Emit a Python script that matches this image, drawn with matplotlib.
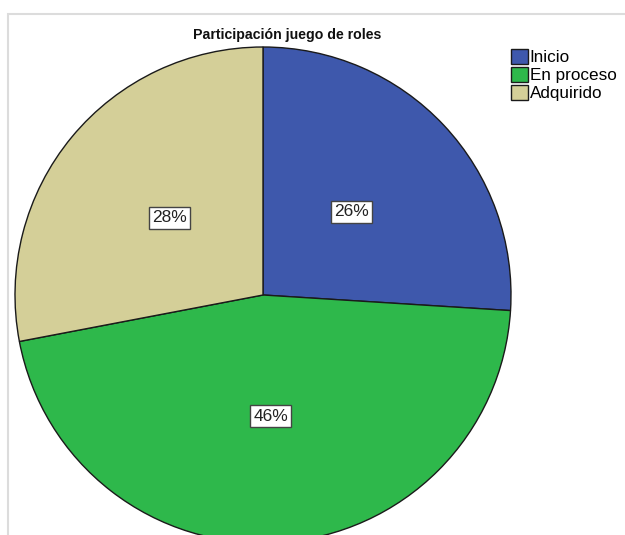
import matplotlib
matplotlib.use("Agg")
import matplotlib.pyplot as plt
from matplotlib.patches import Rectangle

categories = ["Inicio", "En proceso", "Adquirido"]
percentages = [26, 46, 28]
colors = ["#3e58ac", "#2eb84b", "#d4cf98"]
title = "Participación juego de roles"

plt.rcParams["font.family"] = ["Liberation Sans", "DejaVu Sans"]

W, H = 625, 535
fig = plt.figure(figsize=(W / 100, H / 100), dpi=100)
ax = fig.add_axes([0, 0, 1, 1])

wedges, texts = ax.pie(
    percentages,
    labels=[f"{p}%" for p in percentages],
    colors=colors,
    startangle=90,
    counterclock=False,
    center=(263, H - 295),
    radius=248,
    labeldistance=0.49,
    wedgeprops=dict(edgecolor="#1a1a1a", linewidth=1.0),
    textprops=dict(fontsize=12.5, color="#222222", ha="center", va="center"),
    frame=True,
)
for t in texts:
    t.set_bbox(dict(boxstyle="square,pad=0.2", facecolor="white",
                    edgecolor="#444444", linewidth=1.0))

ax.set_xlim(0, W)
ax.set_ylim(0, H)
ax.set_aspect("equal")
ax.axis("off")

# outer chart frame
ax.add_patch(Rectangle((8, -10), W, H - 14 + 10, fill=False,
                       edgecolor="#dcdcdc", linewidth=1.5, zorder=0))

ax.text(287, H - 35, title, ha="center", va="center",
        fontsize=10.2, fontweight="bold", color="#111111")

leg = ax.legend(wedges, categories, loc="upper left",
                bbox_to_anchor=(511 / W, 1 - 49 / H),
                frameon=False, fontsize=12.3,
                handlelength=1.0, handleheight=0.95, handletextpad=0.1,
                labelspacing=0.1, borderpad=0, borderaxespad=0)

fig.savefig("out.png", dpi=100)
